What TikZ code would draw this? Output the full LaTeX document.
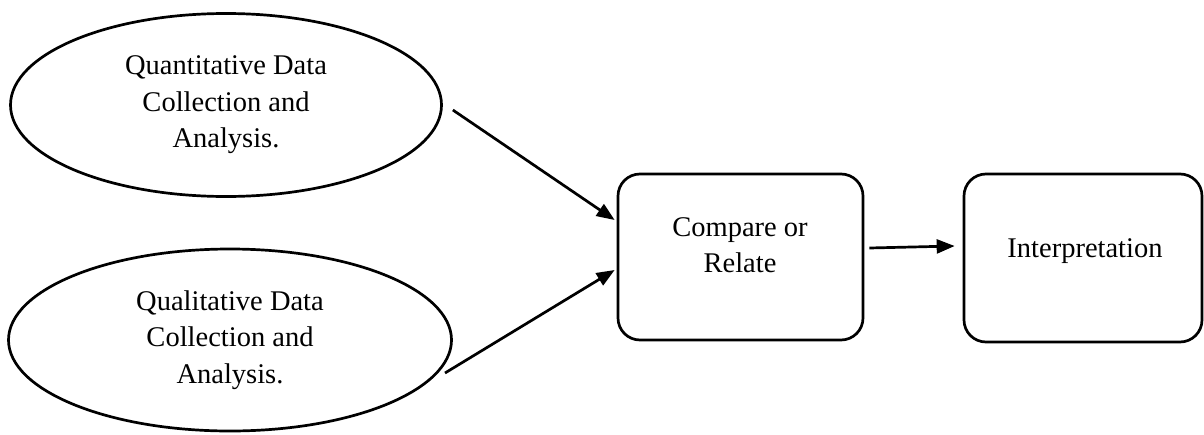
\documentclass[tikz,border=0pt]{standalone}
\usepackage{fontspec}
\setmainfont{Liberation Serif}
\usetikzlibrary{shapes.geometric,arrows.meta,calc}
\begin{document}
\begin{tikzpicture}[x=1pt,y=-1pt,
  every node/.style={font=\fontsize{28.5}{36.5}\selectfont},
  oval/.style={draw,ellipse,line width=2.7pt,inner sep=0pt,align=center},
  rbox/.style={draw,rectangle,rounded corners=22pt,line width=2.7pt,inner sep=0pt},
  lbl/.style={inner sep=0pt,align=center},
  arr/.style={line width=2.7pt,-{Triangle[length=18pt,width=14pt]}}]
\useasboundingbox (0,0) rectangle (1204,434);
\node[oval,minimum width=431pt,minimum height=183pt] (qn) at (226,105) {Quantitative Data\\Collection and\\Analysis.};
\node[oval,minimum width=443pt,minimum height=182pt] (ql) at (230,340) {Qualitative Data\\Collection and\\Analysis.};
\node[rbox,minimum width=245pt,minimum height=166pt] (cr) at (740.5,257) {};
\node[rbox,minimum width=238pt,minimum height=168pt] (ip) at (1083,258) {};
\node[lbl] (crt) at (740,245) {Compare or\\Relate};
\node[lbl,anchor=base] (ipt) at (1085,257) {Interpretation};
\coordinate (a1s) at ($(qn.east)+(10,5)$);
\coordinate (a1e) at ($(cr.west)+(-2,-37)$);
\coordinate (a2s) at (445,373);
\coordinate (a2e) at ($(cr.west)+(-2,13)$);
\coordinate (a3s) at ($(cr.east)+(5,-9)$);
\coordinate (a3e) at ($(ip.west)+(-8,-12)$);
\draw[arr] (a1s) -- (a1e);
\draw[arr] (a2s) -- (a2e);
\draw[arr] (a3s) -- (a3e);
\end{tikzpicture}
\end{document}
